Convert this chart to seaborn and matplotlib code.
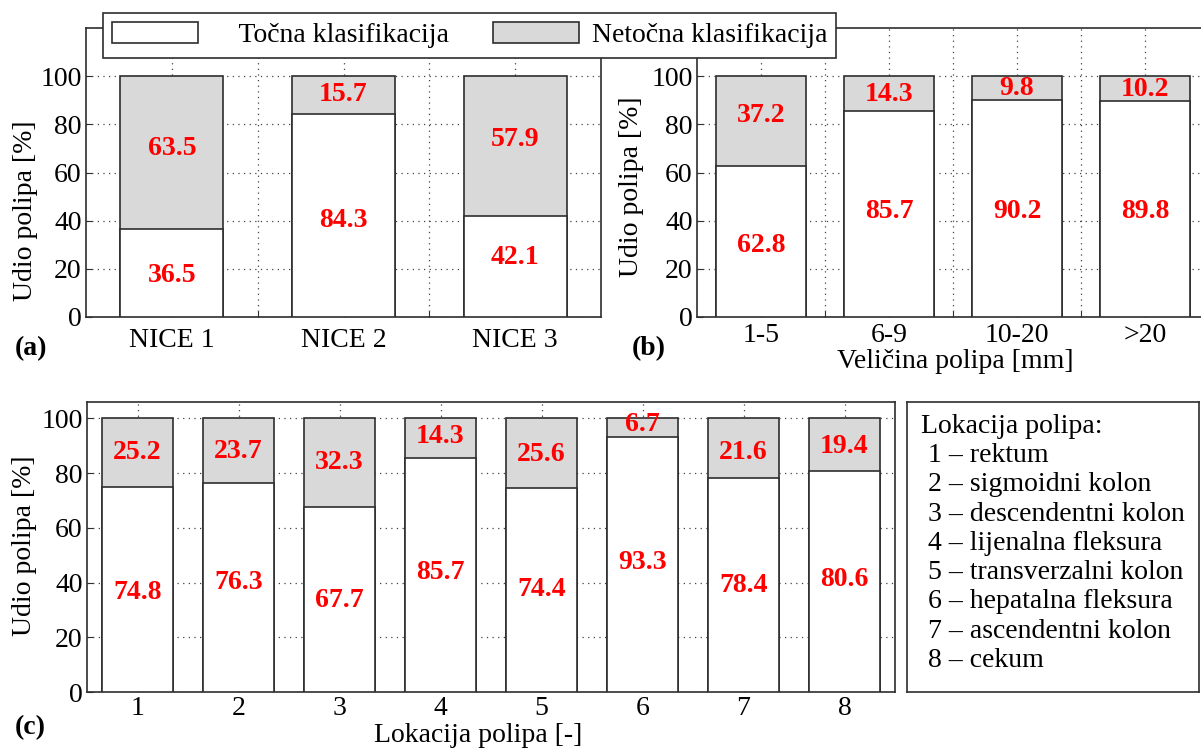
import matplotlib
matplotlib.use("Agg")
import matplotlib.pyplot as plt
import seaborn as sns
from matplotlib.patches import Patch

# ---------------- data ----------------
nice_cats = ["NICE 1", "NICE 2", "NICE 3"]
nice_correct = [36.5, 84.3, 42.1]
nice_wrong = [63.5, 15.7, 57.9]

size_cats = ["1-5", "6-9", "10-20", ">20"]
size_correct = [62.8, 85.7, 90.2, 89.8]
size_wrong = [37.2, 14.3, 9.8, 10.2]

loc_cats = ["1", "2", "3", "4", "5", "6", "7", "8"]
loc_correct = [74.8, 76.3, 67.7, 85.7, 74.4, 93.3, 78.4, 80.6]
loc_wrong = [25.2, 23.7, 32.3, 14.3, 25.6, 6.7, 21.6, 19.4]
loc_names = ["rektum", "sigmoidni kolon", "descendentni kolon",
             "lijenalna fleksura", "transverzalni kolon",
             "hepatalna fleksura", "ascendentni kolon", "cekum"]

series_labels = ["Točna klasifikacija", "Netočna klasifikacija"]
y_ticks = [0, 20, 40, 60, 80, 100]

# ---------------- layout (text label heights, in axis units) ----------------
lab_a = ([17.4, 40.2, 24.9], [70.1, 92.5, 73.9])
lab_b = ([29.5, 44.0, 44.0, 44.0], [83.8, 92.5, 94.8, 94.6])
lab_c = ([36.5, 40.1, 33.6, 43.8, 37.6, 47.4, 39.0, 41.2],
         [87.6, 88.0, 83.9, 93.4, 86.9, 97.8, 87.6, 89.8])

W, H = 1201, 749
GRAY = "#d9d9d9"
EDGE = "#2e2e2e"
RED = "#ff0000"
FS = 20

plt.rcParams["font.family"] = ["Liberation Serif", "DejaVu Serif"]
plt.rcParams["font.size"] = FS

fig = plt.figure(figsize=(W / 100, H / 100), dpi=100)
fig.patch.set_facecolor("white")


def rect(l, t, r, b):
    return [l / W, 1 - b / H, (r - l) / W, (b - t) / H]


def panel(box, cats, correct, wrong, width, ylim_top, labs, half_grid, xpad):
    ax = fig.add_axes(box)
    total = [c + w for c, w in zip(correct, wrong)]
    sns.barplot(x=cats, y=total, color=GRAY, saturation=1, width=width,
                edgecolor=EDGE, linewidth=1.2, errorbar=None, ax=ax, zorder=2)
    sns.barplot(x=cats, y=correct, color="white", saturation=1, width=width,
                edgecolor=EDGE, linewidth=1.2, errorbar=None, ax=ax, zorder=3)
    n = len(cats)
    ax.set_xlim(-0.5, n - 0.5)
    ax.set_ylim(0, ylim_top)
    ax.set_yticks(y_ticks)
    ax.set_xlabel("")
    ax.set_ylabel("")
    if half_grid:
        ax.set_xticks([i + 0.5 for i in range(n - 1)], minor=True)
    ax.set_axisbelow(True)
    gs = dict(linestyle=(0, (1, 3.5)), color="#444444", linewidth=0.9)
    ax.grid(True, axis="y", which="major", **gs)
    ax.grid(True, axis="x", which="major", **gs)
    if half_grid:
        ax.grid(True, axis="x", which="minor", **gs)
    ax.tick_params(axis="both", which="both", direction="in", length=4,
                   width=0.8, color=EDGE, labelsize=FS)
    ax.tick_params(axis="x", pad=xpad)
    ax.tick_params(axis="y", pad=3)
    for s in ax.spines.values():
        s.set_color(EDGE)
        s.set_linewidth(1.2)
    for i in range(n):
        ax.text(i, labs[0][i], f"{correct[i]:.1f}", color=RED, fontsize=FS,
                fontweight="bold", ha="center", va="center", zorder=5)
        ax.text(i, labs[1][i], f"{wrong[i]:.1f}", color=RED, fontsize=FS,
                fontweight="bold", ha="center", va="center", zorder=5)
    return ax


ax_a = panel(rect(86, 28, 601, 317), nice_cats, nice_correct, nice_wrong,
             0.6, 120, lab_a, True, 8)
ax_b = panel(rect(697, 28, 1209, 317), size_cats, size_correct, size_wrong,
             0.7, 120, lab_b, True, 4.5)
ax_c = panel(rect(87, 402, 895, 692), loc_cats, loc_correct, loc_wrong,
             0.7, 106, lab_c, False, 3)


def ftext(px, py, s, **kw):
    fig.text(px / W, 1 - py / H, s, fontsize=FS, **kw)


# y labels
ftext(26, 211, "Udio polipa [%]", rotation=90, ha="center", va="center")
ftext(632, 187, "Udio polipa [%]", rotation=90, ha="center", va="center")
ftext(25, 546, "Udio polipa [%]", rotation=90, ha="center", va="center")
# x labels
ftext(955, 362, "Veličina polipa [mm]", ha="center", va="center")
ftext(478, 736, "Lokacija polipa [-]", ha="center", va="center")
# panel letters
ftext(31, 349, "(a)", ha="center", va="center", fontweight="bold")
ftext(649, 349, "(b)", ha="center", va="center", fontweight="bold")
ftext(30, 728, "(c)", ha="center", va="center", fontweight="bold")

# top legend
handles = [Patch(facecolor="white", edgecolor=EDGE, linewidth=1.2),
           Patch(facecolor=GRAY, edgecolor=EDGE, linewidth=1.2)]
leg = fig.legend(handles, ["    " + series_labels[0], series_labels[1]],
                 loc="upper left", bbox_to_anchor=(103 / W, 1 - 13 / H),
                 ncol=2, frameon=True, fancybox=False, framealpha=1,
                 edgecolor=EDGE, borderaxespad=0, borderpad=0.33,
                 handlelength=3.1, handleheight=0.8, handletextpad=0.45,
                 columnspacing=1.6, fontsize=FS)
leg.get_frame().set_linewidth(1.2)
leg.set_zorder(10)

# location legend box
axl = fig.add_axes(rect(907, 402, 1199, 692))
axl.set_xticks([])
axl.set_yticks([])
for s in axl.spines.values():
    s.set_color(EDGE)
    s.set_linewidth(1.2)
ftext(921, 432.7, "Lokacija polipa:", ha="left", va="baseline")
for i, name in enumerate(loc_names):
    ftext(921, 462 + 29.3 * i, f" {loc_cats[i]} – {name}", ha="left",
          va="baseline")

fig.savefig("out.png", dpi=100, facecolor="white")
